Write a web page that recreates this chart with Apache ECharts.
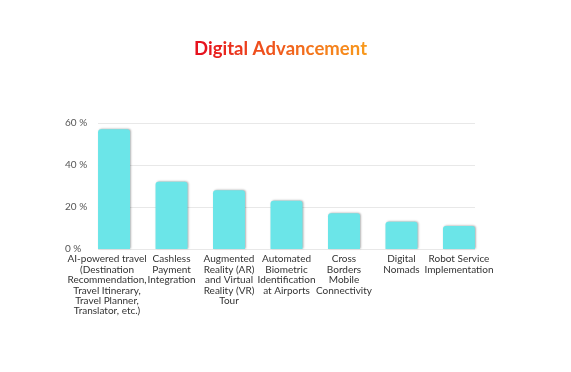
<!DOCTYPE html>
<html><head><meta charset="utf-8">
<script src="https://cdn.jsdelivr.net/npm/echarts@6/dist/echarts.min.js"></script>
<style>html,body{margin:0;padding:0;background:#fff}#c{width:571px;height:372px}</style>
</head><body><div id="c"></div>
<script>
const categories = [
  "AI-powered travel\n(Destination\nRecommendation,\nTravel Itinerary,\nTravel Planner,\nTranslator, etc.)",
  "Cashless\nPayment\nIntegration",
  "Augmented\nReality (AR)\nand Virtual\nReality (VR)\nTour",
  "Automated\nBiometric\nIdentification\nat Airports",
  "Cross\nBorders\nMobile\nConnectivity",
  "Digital\nNomads",
  "Robot Service\nImplementation"
];
const values = [57, 32, 28, 23, 17, 13, 11];
const yTicks = [0, 20, 40, 60];
const titleText = "Digital Advancement";

const FONT = 'Lato';
// per-character colour gradient for the title (style only)
const c0 = [0xe6, 0x12, 0x1e], c1 = [0xf8, 0x98, 0x1c];
const chars = titleText.split('');
const rich = {};
const richText = chars.map((ch, i) => {
  const t = i / (chars.length - 1);
  const col = 'rgb(' + c0.map((a, k) => Math.round(a + (c1[k] - a) * t)).join(',') + ')';
  rich['c' + i] = {color: col, fontFamily: FONT, fontSize: 18.5, fontWeight: 'bold'};
  return '{c' + i + '|' + ch + '}';
}).join('');

const labelBase = {
  show: true, position: 'bottom', distance: 5,
  formatter: p => categories[p.dataIndex],
  fontFamily: FONT, fontSize: 10, color: '#333', lineHeight: 10.4,
  align: 'center', verticalAlign: 'top'
};

const chart = echarts.init(document.getElementById('c'), null, {renderer: 'canvas'});
chart.setOption({
  backgroundColor: '#fff',
  animation: false,
  title: {
    text: richText, left: 189, top: 35,
    textStyle: {rich: rich, fontFamily: FONT, fontSize: 18.5, fontWeight: 'bold'}
  },
  grid: {left: 98, right: 96, top: 123, bottom: 123},
  xAxis: {
    type: 'value', min: -0.279, max: 6.279,
    splitLine: {show: false},
    axisLine: {show: false}, axisTick: {show: false}, axisLabel: {show: false}
  },
  yAxis: {
    type: 'value', min: 0, max: 60, interval: 20,
    axisLine: {show: false}, axisTick: {show: false},
    splitLine: {lineStyle: {color: '#e8e8e8', width: 1}},
    axisLabel: {
      formatter: v => v + ' %', fontFamily: FONT, fontSize: 10, color: '#555',
      align: 'left', margin: 33
    }
  },
  series: [{
    type: 'bar',
    data: values.map((v, i) => ({
      value: [i, v],
      label: Object.assign({}, labelBase, i === 0 ? {padding: [0, 14, 0, 0]} : {})
    })),
    barWidth: 32,
    itemStyle: {
      color: '#6be5e8', borderRadius: [3, 3, 0, 0],
      shadowColor: 'rgba(0,0,0,0.3)', shadowBlur: 2, shadowOffsetX: 1, shadowOffsetY: -0.5
    },
    label: labelBase,
    labelLayout: {hideOverlap: false}
  }]
});
</script></body></html>
